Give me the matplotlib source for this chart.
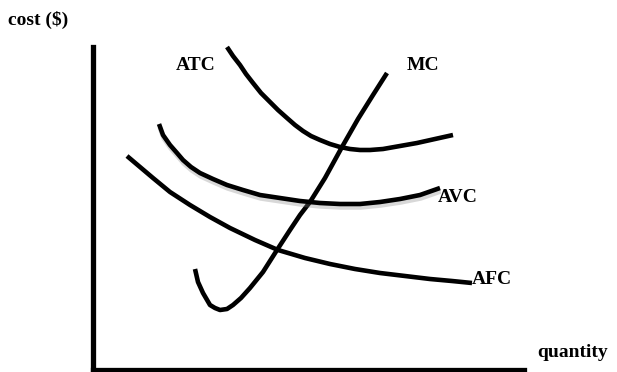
import matplotlib
matplotlib.use('Agg')
import matplotlib.pyplot as plt
import matplotlib.patheffects as pe

# curve points (pixel-like units, y grows downward)
atc_x = [227, 233, 240, 246, 253, 261, 270, 278, 287, 295, 303, 311, 320, 330, 340, 350, 360, 370, 383, 400, 417, 435, 453]
atc_y = [47, 56, 65, 74, 83, 93, 102, 110, 118, 125, 131, 136, 140, 144, 147, 149, 150, 150, 149, 146, 143, 139, 135]

mc_x = [195, 198, 203, 210, 215, 220, 227, 233, 241, 250, 263, 277, 290, 300, 310, 325, 342, 358, 373, 387]
mc_y = [269, 282, 293, 305, 308, 310, 309, 305, 298, 288, 272, 250, 230, 215, 202, 178, 147, 119, 95, 73]

avc_x = [159, 163, 170, 177, 183, 191, 200, 213, 227, 243, 260, 280, 300, 320, 340, 360, 380, 400, 420, 440]
avc_y = [124, 135, 145, 153, 160, 167, 173, 179, 185, 190, 195, 198, 201, 203, 204, 204, 202, 199, 195, 188]

afc_x = [127, 140, 153, 170, 190, 210, 230, 255, 278, 305, 330, 355, 380, 405, 430, 452, 472]
afc_y = [156, 167, 178, 192, 205, 217, 228, 240, 250, 258, 264, 269, 273, 276, 279, 281, 283]

curve_labels = ['ATC', 'MC', 'AVC', 'AFC']
x_title = 'quantity'
y_title = 'cost ($)'

plt.rcParams['font.family'] = ['Liberation Serif', 'DejaVu Serif']

fig = plt.figure(figsize=(6.17, 3.72), dpi=100)
# axes box lines up with the drawn L-shaped axes
ax = fig.add_axes([93 / 617, 2 / 372, (524 - 93) / 617, (370 - 47) / 372])
ax.set_xlim(93, 524)
ax.set_ylim(370, 47)
ax.set_xticks([])
ax.set_yticks([])
ax.spines['top'].set_visible(False)
ax.spines['right'].set_visible(False)
ax.spines['left'].set_linewidth(3.8)
ax.spines['bottom'].set_linewidth(3.8)

kw = dict(color='black', lw=3.3, solid_capstyle='butt', solid_joinstyle='round', clip_on=False)
ax.plot(atc_x, atc_y, **kw)
ax.plot(mc_x, mc_y, **kw)
ax.plot(avc_x, avc_y, path_effects=[pe.SimpleLineShadow(offset=(0.5, -2.5), shadow_color='0.5', alpha=0.3),
                                    pe.Normal()], **kw)
ax.plot(afc_x, afc_y, **kw)

tkw = dict(fontsize=14, fontweight='bold', clip_on=False)
ax.text(196, 66, curve_labels[0], ha='center', va='center', **tkw)
ax.text(423, 66, curve_labels[1], ha='center', va='center', **tkw)
ax.text(438, 198, curve_labels[2], ha='left', va='center', **tkw)
ax.text(472, 280, curve_labels[3], ha='left', va='center', **tkw)
ax.text(537, 353, x_title, ha='left', va='center', **tkw)
ax.text(8, 20, y_title, ha='left', va='center', **tkw)

fig.savefig('out.png', dpi=100)
